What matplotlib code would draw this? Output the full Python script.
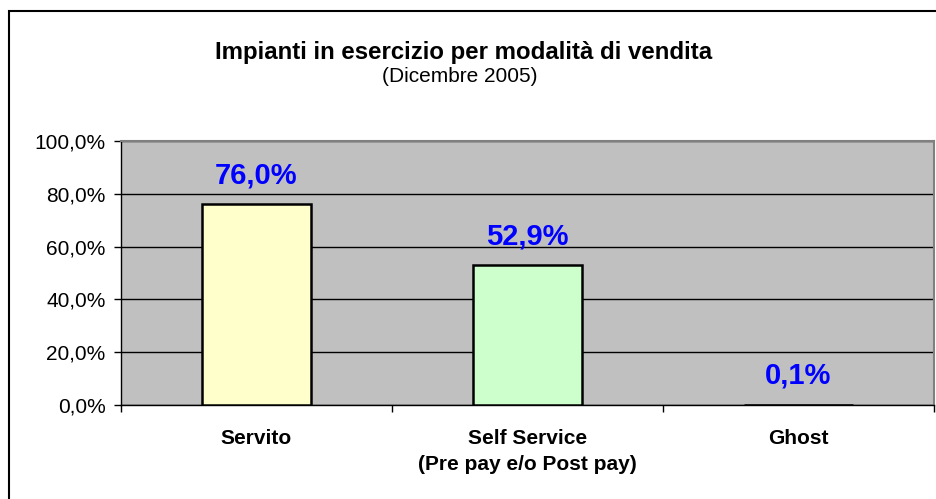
import matplotlib.pyplot as plt
from matplotlib.patches import Rectangle
from matplotlib.ticker import FuncFormatter

plt.rcParams['font.family'] = ['Liberation Sans', 'DejaVu Sans']

# data
categories = ["Servito", "Self Service\n(Pre pay e/o Post pay)", "Ghost"]
values = [76.0, 52.9, 0.1]
bar_colors = ["#FFFFCC", "#CCFFCC", "#CCFFFF"]
y_ticks = [0, 20, 40, 60, 80, 100]

fig = plt.figure(figsize=(9.37, 4.99), dpi=100)
ax = fig.add_axes([121 / 937, 94 / 499, 813 / 937, 264 / 499])
ax.set_facecolor("#C0C0C0")

x = list(range(len(categories)))
ax.bar(x, values, width=0.4, color=bar_colors, edgecolor="black", linewidth=1.8, zorder=3)

for xi, v in zip(x, values):
    label = f"{v:.1f}%".replace(".", ",")
    ax.annotate(label, (xi, v), xytext=(0, 21), textcoords="offset points",
                ha="center", va="center", fontsize=21, fontweight="bold", color="#0000FF")

ax.set_xlim(-0.5, len(categories) - 0.5)
ax.set_ylim(0, 100)
ax.set_yticks(y_ticks)
ax.yaxis.set_major_formatter(FuncFormatter(lambda v, p: f"{v:.1f}%".replace(".", ",")))
ax.tick_params(axis="y", direction="out", length=5, width=1, labelsize=15, pad=6)
ax.yaxis.grid(True, color="black", linewidth=1, zorder=1)
ax.set_axisbelow(True)

ax.set_xticks(x)
ax.set_xticklabels(categories, fontsize=15, fontweight="bold", linespacing=1.5)
ax.tick_params(axis="x", which="major", length=0, pad=17)
ax.set_xticks([i - 0.5 for i in range(len(categories) + 1)], minor=True)
ax.tick_params(axis="x", which="minor", direction="out", length=5, width=1)

for side in ["left", "bottom"]:
    ax.spines[side].set_color("black")
    ax.spines[side].set_linewidth(1)
for side in ["top", "right"]:
    ax.spines[side].set_color("#808080")
    ax.spines[side].set_linewidth(1.5)

fig.text(464 / 937, 1 - 52 / 499, "Impianti in esercizio per modalità di vendita",
         ha="center", va="center", fontsize=17.3, fontweight="bold")
fig.text(460 / 937, 1 - 77 / 499, "(Dicembre 2005)", ha="center", va="center", fontsize=15)

fig.patches.append(Rectangle((9.5 / 937, -0.1), 1.2, 1.1 - 11.5 / 499,
                             transform=fig.transFigure, fill=False,
                             edgecolor="black", linewidth=1.5))

fig.savefig("out.png", dpi=100)
